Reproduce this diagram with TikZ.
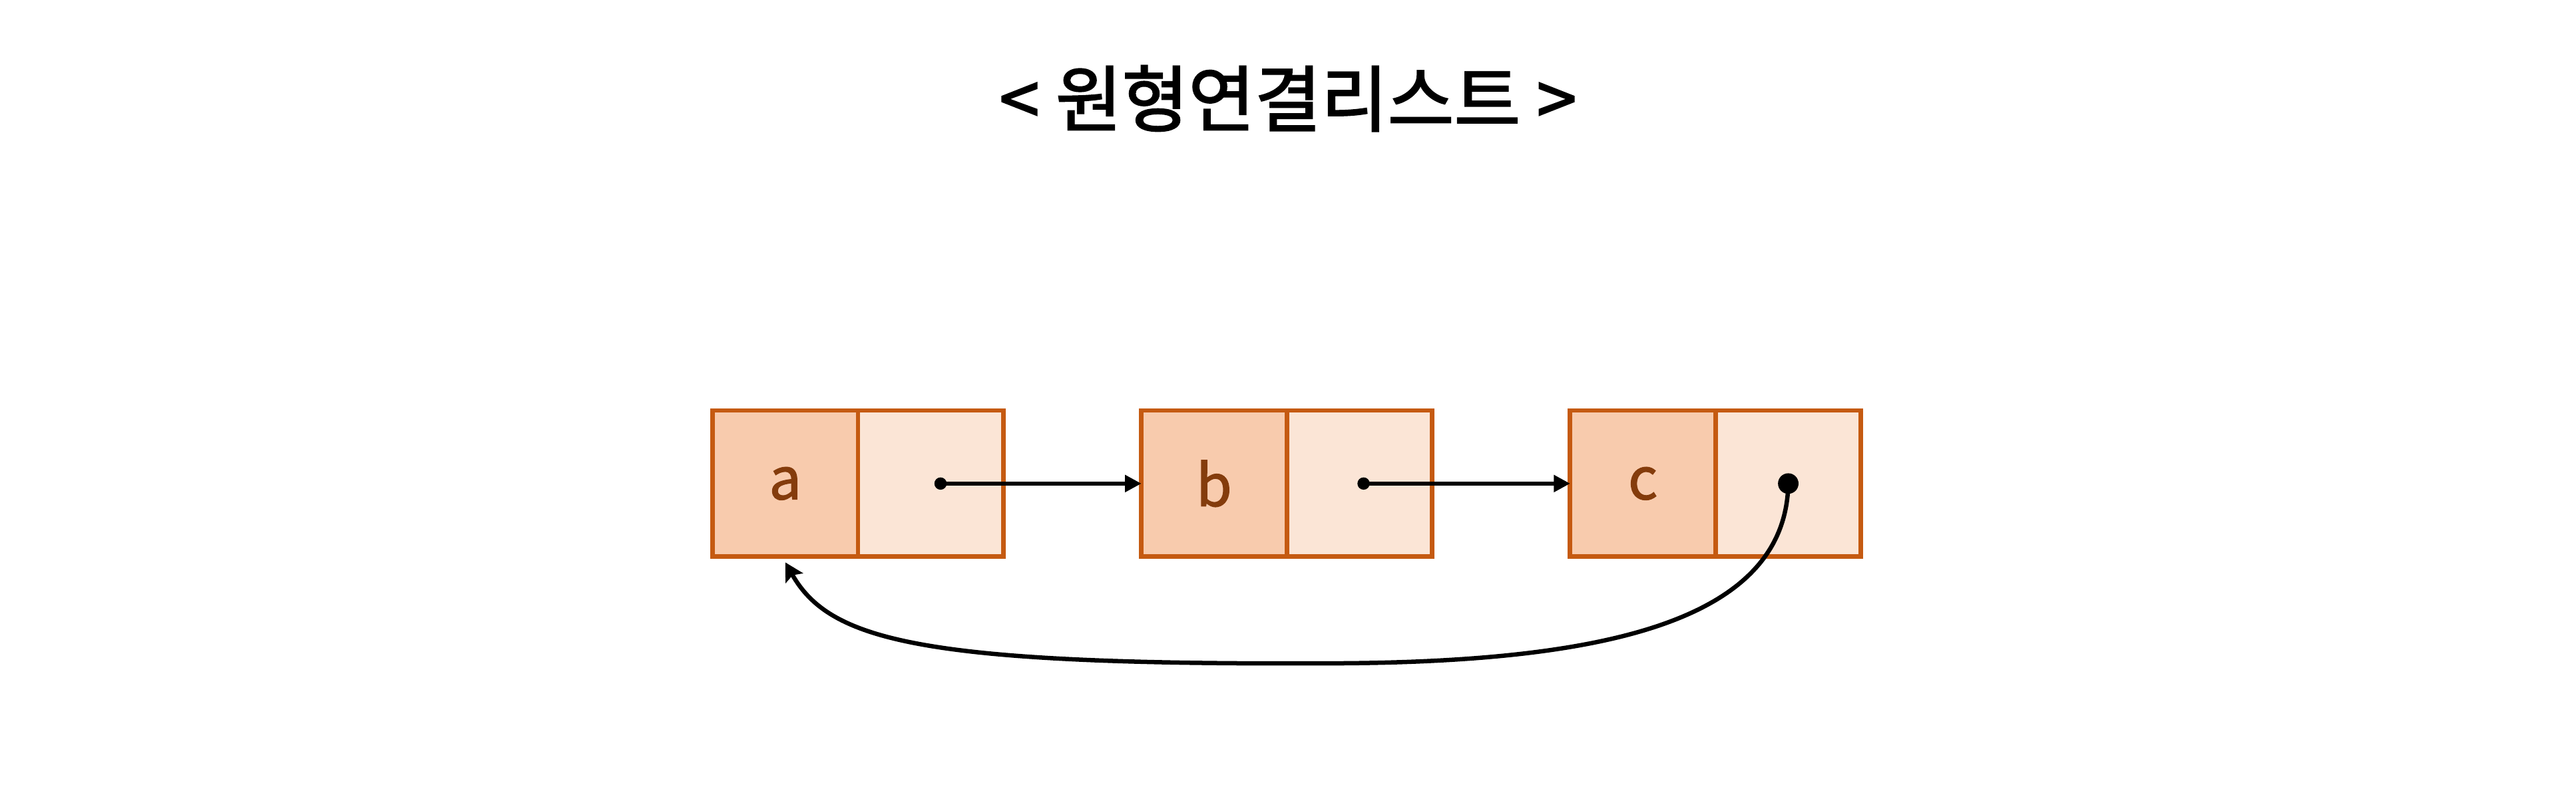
\documentclass[tikz,border=0pt]{standalone}
\usepackage{fontspec}
\newfontfamily\krfont{Noto Sans CJK KR}[FakeBold=1.5]
\newfontfamily\krtitle{Noto Sans CJK KR}[FakeBold=2]
\usetikzlibrary{positioning,arrows.meta,calc}
\definecolor{nodeline}{HTML}{C55A11}
\definecolor{datafill}{HTML}{F8CBAD}
\definecolor{linkfill}{HTML}{FBE5D6}
\definecolor{datatext}{HTML}{843C0C}
\tikzset{
  datacell/.style={draw=nodeline,fill=datafill,line width=1.6pt,minimum width=1.77cm,
    minimum height=1.78cm,outer sep=0pt,inner sep=0pt,text=datatext,
    font=\krfont\fontsize{20}{20}\selectfont},
  linkcell/.style={draw=nodeline,fill=linkfill,line width=1.6pt,minimum width=1.77cm,
    minimum height=1.78cm,outer sep=0pt,inner sep=0pt},
  pt/.style={circle,fill=black,inner sep=0pt,minimum size=1.5mm},
  bigpt/.style={circle,fill=black,inner sep=0pt,minimum size=2.5mm},
  nxt/.style={-{Triangle[length=2mm,width=2mm]},line width=1.4pt},
  back/.style={-{Stealth[length=2.2mm,width=2.4mm,inset=0.4mm]},line width=1.5pt},
}
\begin{document}
\begin{tikzpicture}
  \useasboundingbox (0,0) rectangle (31.36,9.58);
  \node[font=\krtitle\fontsize{25}{25}\selectfont] (title) at (15.68,8.38)
    {< 원형연결리스트 >};
  % list nodes
  \node[datacell] (a) at (9.56,3.69) {a};
  \node[linkcell,right=0pt of a] (ap) {};
  \node[datacell,right=1.68cm of ap] (b) {b};
  \node[linkcell,right=0pt of b] (bp) {};
  \node[datacell,right=1.68cm of bp] (c) {c};
  \node[linkcell,right=0pt of c] (cp) {};
  % links
  \node[pt] (adot) at ($(ap.center)+(0.12,0)$) {};
  \node[pt] (bdot) at ($(bp.center)+(0.05,0)$) {};
  \node[bigpt] (cdot) at (cp.center) {};
  \draw[nxt] (adot.center) -- (b.west);
  \draw[nxt] (bdot.center) -- (c.west);
  \coordinate (loopbot) at (16.10,1.50);
  \coordinate (backend) at ($(a.south)+(0,-0.07)$);
  \draw[back] (cdot.center) .. controls (21.74,2.0) and (19.5,1.5) .. (loopbot)
    .. controls (11.2,1.48) and (10.1,1.78) .. (backend);
\end{tikzpicture}
\end{document}
